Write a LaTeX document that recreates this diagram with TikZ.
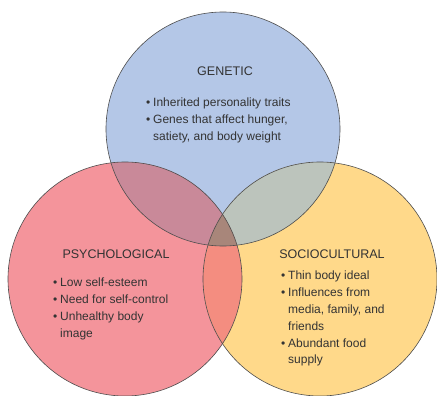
\documentclass[tikz,border=0pt]{standalone}
\usepackage{fontspec}
\setmainfont{Liberation Sans}
\definecolor{genblue}{HTML}{B4C7E7}
\definecolor{psyred}{HTML}{F4949B}
\definecolor{socyellow}{HTML}{FFD98A}
\definecolor{bluered}{HTML}{C98999}
\definecolor{blueyellow}{HTML}{BCC4BC}
\definecolor{redyellow}{HTML}{F48D80}
\definecolor{allthree}{HTML}{A8867A}
\definecolor{rimgray}{HTML}{4D4D4D}
\definecolor{textgray}{HTML}{333333}
\newcommand{\bul}{\makebox[7pt][l]{\textbullet}}
\newcommand{\cont}{\hspace*{7pt}}
\begin{document}
\begin{tikzpicture}[x=1pt,y=-1pt,
    rim/.style={draw=rimgray, line width=0.6pt},
    title/.style={text=textgray, font=\fontsize{12.5}{14}\selectfont, inner sep=0pt},
    list/.style={text=textgray, font=\fontsize{12}{16.8}\selectfont, align=left, inner sep=0pt, anchor=north west}]
    \useasboundingbox (0,0) rectangle (437,396);
    % the three circles
    \coordinate (gen) at (223,129);
    \coordinate (psy) at (125,279);
    \coordinate (soc) at (320,279);
    \fill[genblue] (gen) circle (117);
    \fill[psyred] (psy) circle (117);
    \fill[socyellow] (soc) circle (117);
    % overlaps
    \begin{scope}
        \clip (gen) circle (117);
        \fill[bluered] (psy) circle (117);
        \fill[blueyellow] (soc) circle (117);
    \end{scope}
    \begin{scope}
        \clip (psy) circle (117);
        \fill[redyellow] (soc) circle (117);
        \clip (soc) circle (117);
        \fill[allthree] (gen) circle (117);
    \end{scope}
    \foreach \c in {gen,psy,soc}
        \draw[rim] (\c) circle (117);
    % labels
    \node[title] (gentitle) at (225,71) {GENETIC};
    \node[list] (genlist) at (146,98) {\bul Inherited personality traits\\
        \bul Genes that affect hunger,\\
        \cont satiety, and body weight};
    \node[title] (psytitle) at (116,254) {PSYCHOLOGICAL};
    \node[list] (psylist) at (53,278) {\bul Low self-esteem\\
        \bul Need for self-control\\
        \bul Unhealthy body\\
        \cont image};
    \node[title] (soctitle) at (332,254) {SOCIOCULTURAL};
    \node[list] (soclist) at (281,271) {\bul Thin body ideal\\
        \bul Influences from\\
        \cont media, family, and\\
        \cont friends\\
        \bul Abundant food\\
        \cont supply};
\end{tikzpicture}
\end{document}
